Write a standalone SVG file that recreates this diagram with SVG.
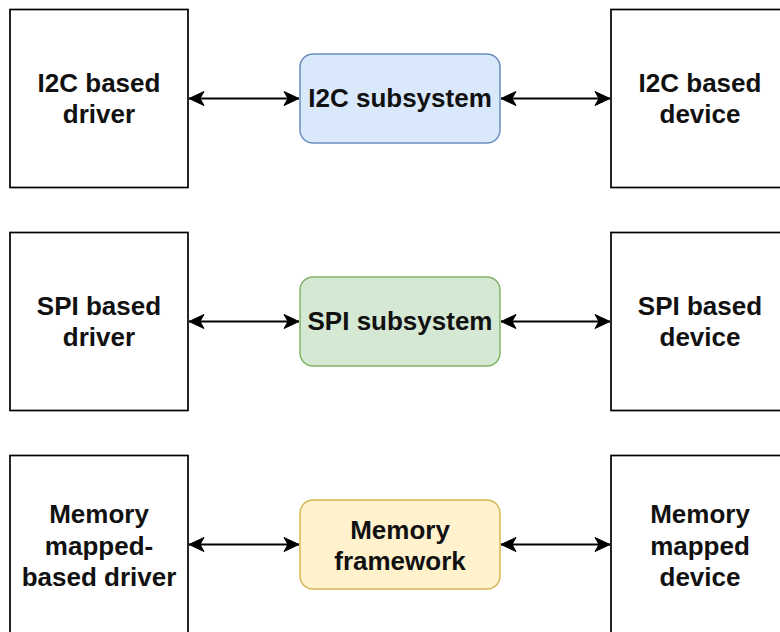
<svg xmlns="http://www.w3.org/2000/svg" width="780" height="632" viewBox="0 0 780 632">
  <style>
    .box { fill: #ffffff; stroke: #000000; stroke-width: 1.7; }
    .sub { stroke-width: 1.5; }
    .blue { fill: #dae8fc; stroke: #6c8ebf; }
    .green { fill: #d5e8d4; stroke: #82b366; }
    .yellow { fill: #fff2cc; stroke: #d6b656; }
    .lbl { font-family: "Liberation Sans", Arial, sans-serif; font-weight: bold; font-size: 26px; fill: #111111; text-anchor: middle; }
    .conn { stroke: #000000; stroke-width: 1.8; fill: none; marker-start: url(#arrow); marker-end: url(#arrow); }
  </style>
  <defs>
    <marker id="arrow" markerUnits="userSpaceOnUse" markerWidth="17" markerHeight="17" viewBox="0 0 17 17" refX="16" refY="8.5" orient="auto-start-reverse">
      <path d="M16,8.5 L1,1.5 L5,8.5 L1,15.5 Z" fill="#000000" stroke="#000000" stroke-width="1" stroke-linejoin="miter"/>
    </marker>
  </defs>
  <rect width="780" height="632" fill="#ffffff"/>

  <g id="i2c-driver">
    <rect class="box" x="10" y="9.5" width="178" height="178"/>
    <text class="lbl" x="99" y="92">I2C based</text>
    <text class="lbl" x="99" y="123">driver</text>
  </g>
  <g id="i2c-subsystem">
    <rect class="sub blue" x="300" y="54" width="200" height="89" rx="13"/>
    <text class="lbl" x="400" y="107">I2C subsystem</text>
  </g>
  <g id="i2c-device">
    <rect class="box" x="611" y="9.5" width="200" height="178"/>
    <text class="lbl" x="700" y="92">I2C based</text>
    <text class="lbl" x="700" y="123">device</text>
  </g>

  <g id="spi-driver">
    <rect class="box" x="10" y="232.5" width="178" height="178"/>
    <text class="lbl" x="99" y="315">SPI based</text>
    <text class="lbl" x="99" y="346">driver</text>
  </g>
  <g id="spi-subsystem">
    <rect class="sub green" x="300" y="277" width="200" height="89" rx="13"/>
    <text class="lbl" x="400" y="330">SPI subsystem</text>
  </g>
  <g id="spi-device">
    <rect class="box" x="611" y="232.5" width="200" height="178"/>
    <text class="lbl" x="700" y="315">SPI based</text>
    <text class="lbl" x="700" y="346">device</text>
  </g>

  <g id="mem-driver">
    <rect class="box" x="10" y="455.5" width="178" height="190"/>
    <text class="lbl" x="99" y="523">Memory</text>
    <text class="lbl" x="99" y="554.5">mapped-</text>
    <text class="lbl" x="99" y="586">based driver</text>
  </g>
  <g id="mem-framework">
    <rect class="sub yellow" x="300" y="500" width="200" height="89" rx="13"/>
    <text class="lbl" x="400" y="538.5">Memory</text>
    <text class="lbl" x="400" y="569.5">framework</text>
  </g>
  <g id="mem-device">
    <rect class="box" x="611" y="455.5" width="200" height="190"/>
    <text class="lbl" x="700" y="523">Memory</text>
    <text class="lbl" x="700" y="554.5">mapped</text>
    <text class="lbl" x="700" y="586">device</text>
  </g>

  <g id="connectors">
    <line class="conn" x1="189" y1="98.5" x2="299" y2="98.5"/>
    <line class="conn" x1="501" y1="98.5" x2="610" y2="98.5"/>
    <line class="conn" x1="189" y1="321.5" x2="299" y2="321.5"/>
    <line class="conn" x1="501" y1="321.5" x2="610" y2="321.5"/>
    <line class="conn" x1="189" y1="544.5" x2="299" y2="544.5"/>
    <line class="conn" x1="501" y1="544.5" x2="610" y2="544.5"/>
  </g>
</svg>
